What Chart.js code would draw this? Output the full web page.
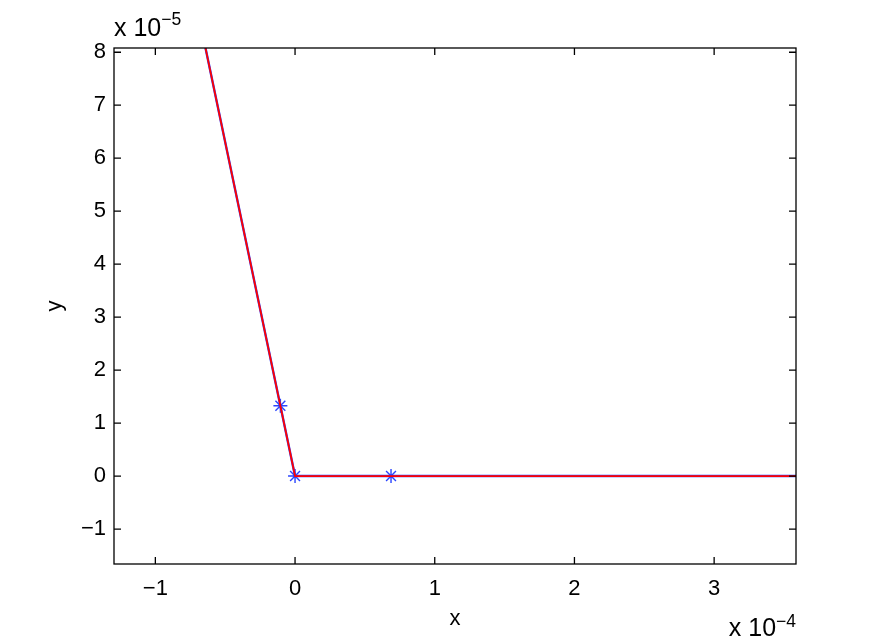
<!DOCTYPE html>
<html>
<head>
<meta charset="utf-8">
<script src="https://cdn.jsdelivr.net/npm/chart.js@4"></script>
<style>
    html, body { margin: 0; padding: 0; background: #ffffff; }
    #wrap { width: 880px; height: 638px; position: relative; }
</style>
</head>
<body>
<div id="wrap"><canvas id="plot" width="880" height="638"></canvas></div>
<script>
// x in units of 1e-4, y in units of 1e-5
const X_EXP = -4;
const Y_EXP = -5;

const LINE_X = [-0.641, -0.105, 0, 0.687, 3.586];
const LINE_Y = [8.08, 1.327, 0, 0, 0];

const STAR_X = [-0.105, 0, 0.687];
const STAR_Y = [1.327, 0, 0];

const X_TICKS = [-1, 0, 1, 2, 3];
const Y_TICKS = [-1, 0, 1, 2, 3, 4, 5, 6, 7, 8];

const X_TITLE = 'x';
const Y_TITLE = 'y';

const X_MIN = -1.296, X_MAX = 3.586;
const Y_MIN = -1.66, Y_MAX = 8.08;

const FONT = '"Liberation Sans", Arial, Helvetica, sans-serif';
const FS = 22;

const pts = (xs, ys) => xs.map((x, i) => ({ x, y: ys[i] }));
const fmt = v => (v < 0 ? '\u2212' + Math.abs(v) : String(v));

// ── Caja, marcas hacia dentro, títulos y multiplicadores ──
const boxPlugin = {
    id: 'box',
    afterDraw(chart) {
        const { ctx, chartArea: a, scales } = chart;
        const t = 7;
        ctx.save();
        ctx.strokeStyle = '#000';
        ctx.lineWidth = 1.3;
        ctx.strokeRect(a.left, a.top, a.right - a.left, a.bottom - a.top);
        ctx.beginPath();
        X_TICKS.forEach(v => {
            const px = scales.x.getPixelForValue(v);
            ctx.moveTo(px, a.bottom); ctx.lineTo(px, a.bottom - t);
            ctx.moveTo(px, a.top);    ctx.lineTo(px, a.top + t);
        });
        Y_TICKS.forEach(v => {
            const py = scales.y.getPixelForValue(v);
            ctx.moveTo(a.left, py);  ctx.lineTo(a.left + t, py);
            ctx.moveTo(a.right, py); ctx.lineTo(a.right - t, py);
        });
        ctx.stroke();

        ctx.fillStyle = '#000';
        ctx.textBaseline = 'alphabetic';

        // axis titles
        ctx.font = `${FS}px ${FONT}`;
        ctx.textAlign = 'center';
        ctx.fillText(X_TITLE, (a.left + a.right) / 2, 625);
        ctx.save();
        ctx.translate(61, (a.top + a.bottom) / 2);
        ctx.rotate(-Math.PI / 2);
        ctx.fillText(Y_TITLE, 0, 0);
        ctx.restore();

        // multipliers
        const big = `25px ${FONT}`, small = `17.5px ${FONT}`;
        ctx.textAlign = 'left';
        ctx.font = big;
        ctx.fillText('x 10', a.left, 36);
        let w = ctx.measureText('x 10').width;
        ctx.font = small;
        ctx.fillText(fmt(Y_EXP), a.left + w, 25);

        const ew = ctx.measureText(fmt(X_EXP)).width;
        ctx.font = big;
        w = ctx.measureText('x 10').width;
        const x0 = a.right - ew - w;
        ctx.fillText('x 10', x0, 636);
        ctx.font = small;
        ctx.fillText(fmt(X_EXP), x0 + w, 627);
        ctx.restore();
    }
};

new Chart(document.getElementById('plot'), {
    type: 'scatter',
    data: {
        datasets: [
            {
                data: pts(LINE_X, LINE_Y),
                showLine: true,
                borderColor: '#ff0000',
                borderWidth: 1.8,
                pointRadius: 0,
                order: 0,
            },
            {
                data: pts(STAR_X, STAR_Y),
                showLine: false,
                pointStyle: 'star',
                pointRadius: 7,
                borderColor: '#2a45ff',
                backgroundColor: '#2a45ff',
                pointBorderWidth: 1.4,
                order: 1,
            },
            {
                data: pts(LINE_X, LINE_Y),
                showLine: true,
                borderColor: '#2a45ff',
                borderWidth: 2.4,
                pointRadius: 0,
                order: 2,
            },
        ]
    },
    options: {
        responsive: false,
        animation: false,
        events: [],
        layout: { padding: { top: 48, right: 84, left: 0, bottom: 0 } },
        plugins: { legend: { display: false }, tooltip: { enabled: false } },
        scales: {
            x: {
                type: 'linear',
                min: X_MIN, max: X_MAX,
                grid: { display: false, drawTicks: false },
                border: { display: false },
                afterBuildTicks: s => { s.ticks = X_TICKS.map(v => ({ value: v })); },
                afterFit: s => { s.height = 74; },
                ticks: { callback: fmt, color: '#000', padding: 12, maxRotation: 0, font: { family: FONT, size: FS } },
            },
            y: {
                type: 'linear',
                min: Y_MIN, max: Y_MAX,
                grid: { display: false, drawTicks: false },
                border: { display: false },
                afterBuildTicks: s => { s.ticks = Y_TICKS.map(v => ({ value: v })); },
                afterFit: s => { s.width = 114; },
                ticks: { callback: fmt, color: '#000', padding: 8, font: { family: FONT, size: FS } },
            }
        }
    },
    plugins: [boxPlugin]
});
</script>
</body>
</html>
